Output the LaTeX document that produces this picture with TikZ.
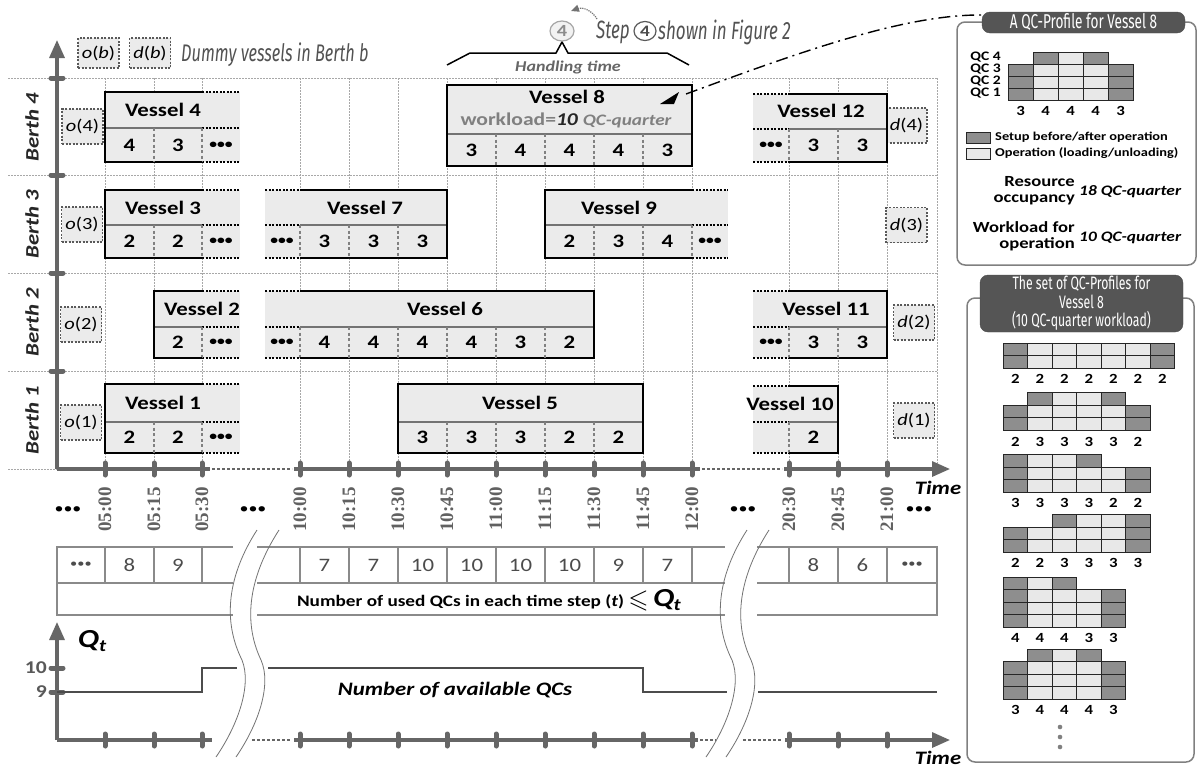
\documentclass[tikz,border=0pt]{standalone}
\usepackage{amssymb}
\usepackage{fontspec}
\setmainfont{Carlito}[FakeStretch=1.2]
\newfontfamily\cond{Fira Sans}[FakeStretch=0.68]
\newfontfamily\tms{Liberation Serif}
\usetikzlibrary{arrows.meta}
\definecolor{axg}{HTML}{666666}
\definecolor{boxf}{HTML}{EBEBEB}
\definecolor{cD}{HTML}{8E8E8E}
\definecolor{cL}{HTML}{E8E8E8}
\definecolor{ttl}{HTML}{555555}
\definecolor{grd}{HTML}{A8A8A8}
\definecolor{tblg}{HTML}{8A8A8A}
\newcommand{\vd}{{\fontsize{13}{13}\selectfont •••}}
\newcommand{\vesR}[6]{%
 \fill[boxf] (#1,#4) rectangle (#3,#6);
 \draw[vmid] (#1,#5) -- (#2,#5);
 \draw[vext] (#2,#4) -- (#3,#4) (#2,#5) -- (#3,#5) (#2,#6) -- (#3,#6);
 \draw[vsep] (#2,#5) -- (#2,#6);
 \draw[vsolid] (#2,#4) -- (#1,#4) -- (#1,#6) -- (#2,#6);}
\newcommand{\vesL}[6]{%
 \fill[boxf] (#1,#4) rectangle (#3,#6);
 \draw[vmid] (#2,#5) -- (#3,#5);
 \draw[vext] (#1,#4) -- (#2,#4) (#1,#5) -- (#2,#5) (#1,#6) -- (#2,#6);
 \draw[vsep] (#2,#5) -- (#2,#6);
 \draw[vsolid] (#2,#4) -- (#3,#4) -- (#3,#6) -- (#2,#6);}
\newcommand{\vesF}[5]{%
 \fill[boxf] (#1,#3) rectangle (#2,#5);
 \draw[vmid] (#1,#4) -- (#2,#4);
 \draw[vsolid] (#1,#3) rectangle (#2,#5);}
\newcommand{\pcol}[3]{\foreach \cc [count=\rr from 0] in {#3} {\draw[cellb, fill=\cc] (#1,{#2-\rr*\ph}) rectangle ++(\pw,-\ph);}}
\newcommand{\pc}[2]{\pcol{\pxo+#1*\pw}{\pyb}{#2}}
\newcommand{\pnums}[1]{\foreach \n [count=\i from 0] in {#1} {\node[pnum] at ({\pxo+\i*\pw+\pw/2},\pyn) {\n};}}
\newcommand{\brkmark}[1]{\begin{scope}[shift={(#1,0)}]
 \draw[brk] (257,530) .. controls (228,575) and (222,620) .. (242,660) .. controls (252,685) and (238,725) .. (216,757);
 \draw[brk] (279,530) .. controls (250,575) and (242,620) .. (261,660) .. controls (272,685) and (258,725) .. (236,757);
 \end{scope}}
\begin{document}
\begin{tikzpicture}[x=1pt,y=-1pt,
 gridln/.style={draw=grd,line width=0.7pt,dash pattern=on 1.5pt off 1.5pt},
 axisln/.style={draw=axg,line width=3.2pt},
 thindash/.style={draw=axg,line width=1.2pt,dash pattern=on 3pt off 2pt},
 tickm/.style={draw=axg,line width=5pt,line cap=round},
 bigarrow/.style={-{Triangle[length=18pt,width=15pt]}},
 vsolid/.style={draw=black,line width=1.8pt},
 vmid/.style={draw=black!55,line width=1.5pt},
 vext/.style={draw=black,line width=1.8pt,dash pattern=on 2pt off 1.5pt},
 vsep/.style={draw=black!50,line width=1.2pt,dash pattern=on 3pt off 2.5pt},
 vtxt/.style={font=\fontsize{19}{20}\selectfont\bfseries,inner sep=0pt},
 dummy/.style={draw=black!65,fill=boxf,line width=1.2pt,dash pattern=on 2pt off 1.5pt,minimum width=41pt,minimum height=35pt,inner sep=0pt,font=\fontsize{17}{17}\selectfont},
 tlab/.style={font=\tms\bfseries\fontsize{19}{19}\selectfont,text=black!62,rotate=90,anchor=east,inner sep=0pt},
 berth/.style={font=\fontsize{19}{19}\selectfont\bfseries\itshape,text=black!85,rotate=90,inner sep=0pt},
 tbl/.style={draw=tblg,line width=1.6pt},
 tnum/.style={font=\fontsize{19}{19}\selectfont,text=black!70,inner sep=0pt},
 brk/.style={draw=black!55,line width=0.8pt},
 cellb/.style={draw=black!85,line width=0.8pt},
 pnum/.style={font=\fontsize{14}{14}\selectfont\bfseries,inner sep=0pt},
 panel/.style={draw=black!50,line width=1.5pt,rounded corners=8pt},
 ptitle/.style={fill=ttl,draw=black!70,rounded corners=8pt,text=white,inner sep=0pt,align=center},
 stepl/.style={draw=black!70,line width=1.8pt},
 lbl/.style={inner sep=0pt}]
\useasboundingbox (0,0) rectangle (1198,772);
\fill[white] (0,0) rectangle (1198,772);

% ---------- grid ----------
\foreach \x in {105,154,202,300,349,398,447,496,545,594,643,692,789,838,887,937}
  \draw[gridln] (\x,78) -- (\x,469);
\foreach \y in {78,175,273,371}
  \draw[gridln] (8,\y) -- (937,\y);
\draw[gridln] (8,469) -- (57,469);

% ---------- main axes ----------
\draw[axisln,bigarrow] (57,469) -- (57,40);
\foreach \y in {78,175,273,371} \draw[tickm] (51,\y) -- (63,\y);
\draw[axisln] (57,469) -- (210,469);
\draw[thindash] (212,469) -- (292,469);
\draw[axisln] (294,469) -- (700,469);
\draw[thindash] (702,469) -- (782,469);
\draw[axisln,bigarrow] (784,469) -- (950,469);
\foreach \x in {105,154,202,300,349,398,447,496,545,594,643,692,789,838,887}
  \draw[tickm] (\x,463) -- (\x,475);
\node[lbl,font=\fontsize{19}{19}\selectfont\bfseries\itshape] (time1) at (938,488) {Time};

% time labels
\foreach \x/\t in {105/05:00,154/05:15,202/05:30,300/10:00,349/10:15,398/10:30,447/10:45,496/11:00,545/11:15,594/11:30,643/11:45,692/12:00,789/20:30,838/20:45,887/21:00}
  \node[tlab] at (\x,487) {\t};
\foreach \x/\nm in {68/da,253/db,743/dc,919/dd}
  \node[lbl,font=\fontsize{15}{15}\selectfont] (\nm) at (\x,510) {•••};

% berth labels
\node[berth] (b4) at (32,127) {Berth 4};
\node[berth] (b3) at (32,224) {Berth 3};
\node[berth] (b2) at (32,322) {Berth 2};
\node[berth] (b1) at (32,420) {Berth 1};

% legend
\node[dummy,minimum height=30pt] (ob) at (98.5,53) {\textit{o}(\textit{b})};
\node[dummy,minimum height=30pt] (dbx) at (150,53) {\textit{d}(\textit{b})};
\node[lbl,anchor=west,font=\cond\itshape\fontsize{24}{24}\selectfont,text=black!68] (dtxt) at (181,55) {Dummy vessels in Berth b};

% dummy vessels
\node[dummy] (o4) at (82.5,126.5) {\textit{o}(4)};
\node[dummy] (o3) at (82,224.5) {\textit{o}(3)};
\node[dummy] (o2) at (81,324.5) {\textit{o}(2)};
\node[dummy] (o1) at (81,422.5) {\textit{o}(1)};
\node[dummy] (d4) at (906.5,125.5) {\textit{d}(4)};
\node[dummy] (d3) at (906.5,225) {\textit{d}(3)};
\node[dummy] (d2) at (914,322.5) {\textit{d}(2)};
\node[dummy] (d1) at (914,420.5) {\textit{d}(1)};

% ---------- vessels ----------
% Berth 4
\vesR{105}{202}{240}{92}{128}{162}
\draw[vsep] (154,128) -- (154,162);
\node[vtxt] (v4) at (163,110) {Vessel 4};
\foreach \x/\n in {129.5/4,178/3,221/\vd} \node[vtxt] at (\x,145) {\n};

\vesF{447}{692}{85}{134}{166}
\foreach \x in {496,545,594,643} \draw[vsep] (\x,134) -- (\x,166);
\node[vtxt] (v8) at (567,97) {Vessel 8};
\node[inner sep=0pt,font=\fontsize{18}{18}\selectfont\bfseries] (w8) at (566,120) {\textcolor{black!50}{workload=}\textcolor{black!85}{\itshape 10} \textcolor{black!50}{\itshape\fontsize{16}{16}\selectfont QC-quarter}};
\foreach \x/\n in {471.5/3,520.5/4,569.5/4,618.5/4,667.5/3} \node[vtxt] at (\x,150) {\n};
\fill (660,104) -- (679,92) -- (674,104) -- cycle;
\coordinate (v8c) at (686,94);

\vesL{753}{789}{887}{94}{129}{162}
\draw[vsep] (838,129) -- (838,162);
\node[vtxt] (v12) at (821,111) {Vessel 12};
\foreach \x/\n in {771/\vd,813.5/3,862.5/3} \node[vtxt] at (\x,145.5) {\n};

% Berth 3
\vesR{105}{202}{240}{190}{225}{258}
\draw[vsep] (154,225) -- (154,258);
\node[vtxt] (v3) at (163,208) {Vessel 3};
\foreach \x/\n in {129.5/2,178/2,221/\vd} \node[vtxt] at (\x,241.5) {\n};

\vesL{265}{300}{447}{190}{225}{258}
\foreach \x in {349,398} \draw[vsep] (\x,225) -- (\x,258);
\node[vtxt] (v7) at (365,208) {Vessel 7};
\foreach \x/\n in {282/\vd,324.5/3,373.5/3,422.5/3} \node[vtxt] at (\x,241.5) {\n};

\vesR{545}{692}{728}{190}{225}{258}
\foreach \x in {594,643} \draw[vsep] (\x,225) -- (\x,258);
\node[vtxt] (v9) at (619,208) {Vessel 9};
\foreach \x/\n in {569.5/2,618.5/3,667.5/4,710/\vd} \node[vtxt] at (\x,241.5) {\n};

% Berth 2
\vesR{154}{202}{240}{291}{327}{358}
\node[vtxt] (v2) at (202,309) {Vessel 2};
\foreach \x/\n in {178/2,221/\vd} \node[vtxt] at (\x,342.5) {\n};

\vesL{265}{300}{594}{291}{327}{358}
\foreach \x in {349,398,447,496,545} \draw[vsep] (\x,327) -- (\x,358);
\node[vtxt] (v6) at (445,309) {Vessel 6};
\foreach \x/\n in {282/\vd,324.5/4,373.5/4,422.5/4,471.5/4,520.5/3,569.5/2} \node[vtxt] at (\x,342.5) {\n};

\vesL{753}{789}{887}{291}{327}{358}
\draw[vsep] (838,327) -- (838,358);
\node[vtxt] (v11) at (826,309) {Vessel 11};
\foreach \x/\n in {771/\vd,813.5/3,862.5/3} \node[vtxt] at (\x,342.5) {\n};

% Berth 1
\vesR{105}{202}{240}{384}{422}{453}
\draw[vsep] (154,422) -- (154,453);
\node[vtxt] (v1) at (163,403) {Vessel 1};
\foreach \x/\n in {129.5/2,178/2,221/\vd} \node[vtxt] at (\x,437.5) {\n};

\vesF{398}{643}{384}{422}{453}
\foreach \x in {447,496,545,594} \draw[vsep] (\x,422) -- (\x,453);
\node[vtxt] (v5) at (520,403) {Vessel 5};
\foreach \x/\n in {422.5/3,471.5/3,520.5/3,569.5/2,618.5/2} \node[vtxt] at (\x,437.5) {\n};

\vesL{753}{789}{838}{386}{422}{453}
\node[vtxt] (v10) at (790,404) {Vessel 10};
\node[vtxt] at (813.5,437.5) {2};

% ---------- handling time / step 4 ----------
\draw[line width=1.5pt] (447,65) -- (470,53) -- (556,53) -- (562,42) -- (568,53) -- (667,53) -- (689,65);
\node[lbl,font=\fontsize{15}{15}\selectfont\bfseries\itshape,text=black!60] (ht) at (568,67) {Handling time};
\draw[draw=black!35,fill=black!5,line width=1.2pt] (562,31) ellipse [x radius=12, y radius=10];
\node[lbl,font=\fontsize{17}{17}\selectfont\bfseries,text=black!45] (c4) at (562,31) {4};
\draw[densely dotted,draw=black!55,line width=1.2pt,-{Triangle[length=8pt,width=7pt]}] (597,19) .. controls (592,10) and (582,7) .. (571,11);
\node[lbl,anchor=west,font=\cond\itshape\fontsize{25}{25}\selectfont,text=black!68] (st1) at (596,32) {Step};
\draw[draw=black!65,line width=1.2pt] (645,31) ellipse [x radius=11, y radius=9.5];
\node[lbl,font=\fontsize{16}{16}\selectfont\bfseries,text=black!70] (st2) at (645,31) {4};
\node[lbl,anchor=west,font=\cond\itshape\fontsize{25}{25}\selectfont,text=black!68] (st3) at (658,32) {shown in Figure 2};

% ---------- table ----------
\draw[tbl] (233,547) -- (57,547) -- (57,615) -- (233,615);
\draw[tbl] (57,583) -- (233,583);
\foreach \x in {105,154,202} \draw[tbl] (\x,547) -- (\x,583);
\draw[tbl] (257,547) -- (725,547) (257,583) -- (725,583) (257,615) -- (725,615);
\foreach \x in {300,349,398,447,496,545,594,643,692} \draw[tbl] (\x,547) -- (\x,583);
\draw[tbl] (757,547) -- (937,547) -- (937,615) -- (757,615);
\draw[tbl] (757,583) -- (937,583);
\foreach \x in {789,838,887} \draw[tbl] (\x,547) -- (\x,583);
\node[tnum,font=\fontsize{12}{12}\selectfont] at (81,565) {•••};
\node[tnum,font=\fontsize{12}{12}\selectfont] at (912,565) {•••};
\foreach \x/\n in {129.5/8,178/9,324.5/7,373.5/7,422.5/10,471.5/10,520.5/10,569.5/10,618.5/9,667.5/7,813.5/8,862.5/6}
  \node[tnum] at (\x,565) {\n};
\node[inner sep=0pt,font=\fontsize{16}{16}\selectfont\bfseries] (tr2) at (489,600) {Number of used QCs in each time step (\textit{t}) \raisebox{-0.1ex}{\fontsize{26}{26}\selectfont$\leqslant$} {\fontsize{26}{26}\selectfont\textit{Q}\kern-0.5pt\raisebox{-0.35ex}{\fontsize{17}{17}\selectfont\textit{t}}}};

% ---------- available QCs chart ----------
\draw[axisln,bigarrow] (57,740) -- (57,622);
\draw[tickm] (51,668) -- (63,668);
\draw[tickm] (51,692) -- (63,692);
\node[lbl,anchor=east,font=\fontsize{18}{18}\selectfont\bfseries,text=black!65] (l10) at (47,668) {10};
\node[lbl,anchor=east,font=\fontsize{18}{18}\selectfont\bfseries,text=black!65] (l9) at (47,692) {9};
\node[lbl,font=\fontsize{26}{26}\selectfont\bfseries\itshape] (qt) at (92,641) {Q\raisebox{-0.35ex}{\fontsize{17}{17}\selectfont t}};
\draw[stepl] (57,692) -- (202,692) -- (202,668) -- (237,668);
\draw[stepl] (268,668) -- (643,668) -- (643,692) -- (727,692);
\draw[stepl] (758,692) -- (937,692);
\node[lbl,font=\fontsize{19}{19}\selectfont\bfseries\itshape] (avail) at (455,690) {Number of available QCs};
\draw[axisln] (57,740) -- (212,740);
\draw[thindash] (252,740) -- (291,740);
\draw[axisln] (294,740) -- (698,740);
\draw[thindash] (700,740) -- (716,740);
\draw[thindash] (743,740) -- (782,740);
\draw[axisln,bigarrow] (785,740) -- (950,740);
\foreach \x in {105,154,202,300,349,398,447,496,545,594,643,692,789,838,887}
  \draw[tickm] (\x,734) -- (\x,746);
\node[lbl,font=\fontsize{19}{19}\selectfont\bfseries\itshape] (time2) at (938,758) {Time};

% breaks
\brkmark{0}
\brkmark{490}

% ---------- panel 1 ----------
\draw[panel] (957,22) rectangle (1196,265);
\node[ptitle,minimum width=203pt,minimum height=21pt,font=\cond\fontsize{20}{20}\selectfont] (pt1) at (1083.5,22.5) {A QC-Profile for Vessel 8};
\draw[line width=1.4pt,dash pattern=on 12pt off 5pt on 2pt off 5pt] (v8c) .. controls (800,52) and (905,14) .. (983,15);
\def\pw{25}\def\ph{12}\def\pxo{1008}\def\pyb{100}\def\pyn{111}
\pc{0}{cD,cD,cD}
\pc{1}{cL,cL,cL,cD}
\pc{2}{cL,cL,cL,cL}
\pc{3}{cL,cL,cL,cD}
\pc{4}{cD,cD,cD}
\pnums{3,4,4,4,3}
\foreach \q/\y in {4/57,3/69,2/81,1/93}
  \node[lbl,anchor=east,font=\fontsize{13}{13}\selectfont\bfseries] at (1001,\y) {QC \q};
\draw[cellb,fill=cD] (966,132) rectangle (990,143);
\draw[cellb,fill=cL] (966,148) rectangle (990,159);
\node[lbl,anchor=west,font=\fontsize{12}{12}\selectfont\bfseries] (lg1) at (995,137.5) {Setup before/after operation};
\node[lbl,anchor=west,font=\fontsize{12}{12}\selectfont\bfseries] (lg2) at (995,153.5) {Operation (loading/unloading)};
\node[lbl,anchor=east,align=right,font=\fontsize{15.5}{16}\selectfont\bfseries] (ro) at (1075,191) {Resource\\occupancy};
\node[lbl,anchor=west,font=\fontsize{14.5}{15}\selectfont\bfseries\itshape] (ro2) at (1079,192) {18 QC-quarter};
\node[lbl,anchor=east,align=right,font=\fontsize{15.5}{16}\selectfont\bfseries] (wo) at (1075,236) {Workload for\\operation};
\node[lbl,anchor=west,font=\fontsize{14.5}{15}\selectfont\bfseries\itshape] (wo2) at (1079,238) {10 QC-quarter};

% ---------- panel 2 ----------
\draw[panel] (967,298) rectangle (1194,762);
\node[ptitle,minimum width=203pt,minimum height=57pt,font=\cond\fontsize{18}{18.5}\selectfont] (pt2) at (1081.5,303.5) {The set of QC-Profiles for\\Vessel 8\\(10 QC-quarter workload)};
\def\pw{24.5}\def\ph{12.4}\def\pxo{1003}
% P1
\def\pyb{368}\def\pyn{379}
\pc{0}{cD,cD}\pc{1}{cL,cL}\pc{2}{cL,cL}\pc{3}{cL,cL}\pc{4}{cL,cL}\pc{5}{cL,cL}\pc{6}{cD,cD}
\pnums{2,2,2,2,2,2,2}
% P2
\def\pyb{430}\def\pyn{442}
\pc{0}{cD,cD}\pc{1}{cL,cL,cD}\pc{2}{cL,cL,cL}\pc{3}{cL,cL,cL}\pc{4}{cL,cL,cD}\pc{5}{cD,cD}
\pnums{2,3,3,3,3,2}
% P3
\def\pyb{492}\def\pyn{503}
\pc{0}{cD,cD,cD}\pc{1}{cL,cL,cL}\pc{2}{cL,cL,cL}\pc{3}{cL,cL,cD}\pc{4}{cL,cL}\pc{5}{cD,cD}
\pnums{3,3,3,3,2,2}
% P4
\def\pyb{552}\def\pyn{563}
\pc{0}{cD,cD}\pc{1}{cL,cL}\pc{2}{cL,cL,cD}\pc{3}{cL,cL,cL}\pc{4}{cL,cL,cL}\pc{5}{cD,cD,cD}
\pnums{2,2,3,3,3,3}
% P5
\def\pyb{627}\def\pyn{638}
\pc{0}{cD,cD,cD,cD}\pc{1}{cL,cL,cL,cL}\pc{2}{cL,cL,cL,cD}\pc{3}{cL,cL,cL}\pc{4}{cD,cD,cD}
\pnums{4,4,4,3,3}
% P6
\def\pyb{699}\def\pyn{710}
\pc{0}{cD,cD,cD}\pc{1}{cL,cL,cL,cD}\pc{2}{cL,cL,cL,cL}\pc{3}{cL,cL,cL,cD}\pc{4}{cD,cD,cD}
\pnums{3,4,4,4,3}
\foreach \y in {727,737,747} \fill[black!50] (1060,\y) circle [radius=2.3];
\end{tikzpicture}
\end{document}
